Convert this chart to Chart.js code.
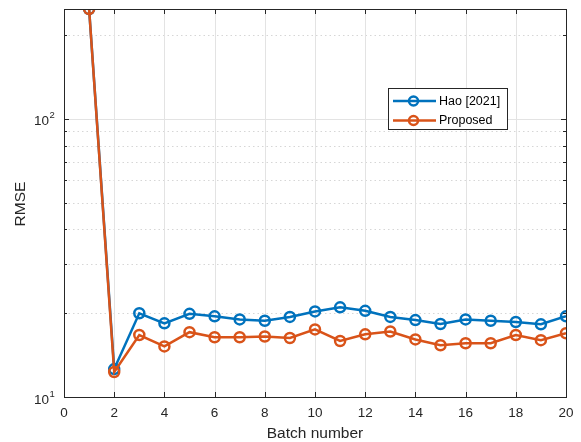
<!DOCTYPE html>
<html>
<head>
<meta charset="utf-8">
<script src="https://cdn.jsdelivr.net/npm/chart.js@4.4.1/dist/chart.umd.min.js"></script>
<style>
  html, body { margin: 0; padding: 0; background: #fff; }
  #wrap { width: 581px; height: 442px; }
</style>
</head>
<body>
<div id="wrap"><canvas id="chart" width="581" height="442"></canvas></div>
<script>
// data
const batches = [1, 2, 3, 4, 5, 6, 7, 8, 9, 10, 11, 12, 13, 14, 15, 16, 17, 18, 19, 20];
const haoRmse = [248, 12.6, 20.0, 18.4, 19.9, 19.5, 19.0, 18.8, 19.4, 20.3, 21.0, 20.4, 19.4, 18.9, 18.3, 19.0, 18.8, 18.6, 18.25, 19.5];
const proposedRmse = [248, 12.3, 16.7, 15.2, 17.1, 16.4, 16.4, 16.5, 16.3, 17.5, 15.9, 16.8, 17.2, 16.1, 15.35, 15.6, 15.6, 16.7, 16.0, 16.95];
const seriesNames = ['Hao [2021]', 'Proposed'];
const xTicks = [0, 2, 4, 6, 8, 10, 12, 14, 16, 18, 20];
const yMajorTicks = [10, 100];
const yMajorExp = ['1', '2'];
const yMinorTicks = [20, 30, 40, 50, 60, 70, 80, 90, 200];

const BLUE = '#0072BD';
const ORANGE = '#D95319';
const AXIS = '#262626';
const FONT = "'Liberation Sans', Arial, sans-serif";

const toPoints = (ys) => batches.map((b, i) => ({ x: b, y: ys[i] }));

// matlab-ish axes: grid, box, inward ticks, labels
const axesPlugin = {
    id: 'matlabAxes',
    beforeDraw(chart) {
        const ctx = chart.ctx;
        ctx.save();
        ctx.fillStyle = '#fff';
        ctx.fillRect(0, 0, chart.width, chart.height);
        ctx.restore();
    },
    beforeDatasetsDraw(chart) {
        const { ctx, chartArea: a, scales: { x, y } } = chart;
        ctx.save();
        ctx.lineWidth = 1;
        // minor dotted grid
        ctx.strokeStyle = '#d6d6d6';
        ctx.setLineDash([1.5, 3]);
        yMinorTicks.forEach(v => {
            const py = Math.round(y.getPixelForValue(v)) + 0.5;
            ctx.beginPath(); ctx.moveTo(a.left, py); ctx.lineTo(a.right, py); ctx.stroke();
        });
        // major solid grid
        ctx.setLineDash([]);
        ctx.strokeStyle = '#e3e3e3';
        xTicks.forEach(v => {
            const px = Math.round(x.getPixelForValue(v)) + 0.5;
            ctx.beginPath(); ctx.moveTo(px, a.top); ctx.lineTo(px, a.bottom); ctx.stroke();
        });
        yMajorTicks.forEach(v => {
            const py = Math.round(y.getPixelForValue(v)) + 0.5;
            ctx.beginPath(); ctx.moveTo(a.left, py); ctx.lineTo(a.right, py); ctx.stroke();
        });
        ctx.restore();
    },
    afterDatasetsDraw(chart) {
        const { ctx, chartArea: a, scales: { x, y } } = chart;
        ctx.save();
        ctx.strokeStyle = AXIS;
        ctx.lineWidth = 1;
        ctx.strokeRect(Math.round(a.left) + 0.5, Math.round(a.top) + 0.5,
            Math.round(a.right - a.left), Math.round(a.bottom - a.top));

        // ticks inward
        ctx.beginPath();
        xTicks.forEach(v => {
            const px = Math.round(x.getPixelForValue(v)) + 0.5;
            ctx.moveTo(px, a.bottom); ctx.lineTo(px, a.bottom - 5);
            ctx.moveTo(px, a.top); ctx.lineTo(px, a.top + 5);
        });
        yMajorTicks.forEach(v => {
            const py = Math.round(y.getPixelForValue(v)) + 0.5;
            ctx.moveTo(a.left, py); ctx.lineTo(a.left + 5, py);
            ctx.moveTo(a.right, py); ctx.lineTo(a.right - 5, py);
        });
        yMinorTicks.forEach(v => {
            const py = Math.round(y.getPixelForValue(v)) + 0.5;
            ctx.moveTo(a.left, py); ctx.lineTo(a.left + 3, py);
            ctx.moveTo(a.right, py); ctx.lineTo(a.right - 3, py);
        });
        ctx.stroke();

        // tick labels
        ctx.fillStyle = AXIS;
        ctx.font = '13.5px ' + FONT;
        ctx.textAlign = 'center';
        ctx.textBaseline = 'middle';
        xTicks.forEach(v => {
            ctx.fillText(String(v), x.getPixelForValue(v), a.bottom + 16);
        });
        yMajorTicks.forEach((v, i) => {
            const py = y.getPixelForValue(v);
            ctx.font = '13.5px ' + FONT;
            ctx.textAlign = 'right';
            ctx.fillText('10', a.left - 15, py + 3);
            ctx.font = '9.5px ' + FONT;
            ctx.textAlign = 'left';
            ctx.fillText(yMajorExp[i], a.left - 14.5, py - 3);
        });

        // axis titles
        ctx.font = '15.5px ' + FONT;
        ctx.textAlign = 'center';
        ctx.fillText('Batch number', (a.left + a.right) / 2, a.bottom + 37);
        ctx.save();
        ctx.translate(21, 204);
        ctx.rotate(-Math.PI / 2);
        ctx.fillText('RMSE', 0, 0);
        ctx.restore();

        // legend box
        const lx = 388.5, ly = 88.5, lw = 119, lh = 41;
        ctx.fillStyle = '#fff';
        ctx.fillRect(lx, ly, lw, lh);
        ctx.strokeStyle = AXIS;
        ctx.strokeRect(lx, ly, lw, lh);
        chart.data.datasets.forEach((ds, i) => {
            const ey = 101 + i * 19.5;
            ctx.strokeStyle = ds.borderColor;
            ctx.lineWidth = 2.5;
            ctx.beginPath(); ctx.moveTo(393, ey); ctx.lineTo(436, ey); ctx.stroke();
            ctx.beginPath(); ctx.arc(413.5, ey, 4.5, 0, Math.PI * 2); ctx.stroke();
            ctx.fillStyle = '#000';
            ctx.font = '12.5px ' + FONT;
            ctx.textAlign = 'left';
            ctx.textBaseline = 'middle';
            ctx.fillText(ds.label, 439, ey + 0.5);
        });
        ctx.restore();
    }
};

new Chart(document.getElementById('chart'), {
    type: 'line',
    data: {
        datasets: [
            {
                label: seriesNames[0],
                data: toPoints(haoRmse),
                order: 1,
                borderColor: BLUE,
                backgroundColor: BLUE,
                pointBackgroundColor: 'rgba(0,0,0,0)',
                pointBorderColor: BLUE,
                borderWidth: 2.5,
                pointBorderWidth: 2.5,
                pointRadius: 5,
                tension: 0
            },
            {
                label: seriesNames[1],
                data: toPoints(proposedRmse),
                order: 0,
                borderColor: ORANGE,
                backgroundColor: ORANGE,
                pointBackgroundColor: 'rgba(0,0,0,0)',
                pointBorderColor: ORANGE,
                borderWidth: 2.5,
                pointBorderWidth: 2.5,
                pointRadius: 5,
                tension: 0
            }
        ]
    },
    options: {
        responsive: false,
        animation: false,
        devicePixelRatio: 1,
        layout: { padding: { left: 64, top: 9, right: 15, bottom: 45 } },
        scales: {
            x: { type: 'linear', min: 0, max: 20, display: false },
            y: { type: 'logarithmic', min: 10, max: 248, display: false }
        },
        plugins: {
            legend: { display: false },
            tooltip: { enabled: false }
        }
    },
    plugins: [axesPlugin]
});
</script>
</body>
</html>
